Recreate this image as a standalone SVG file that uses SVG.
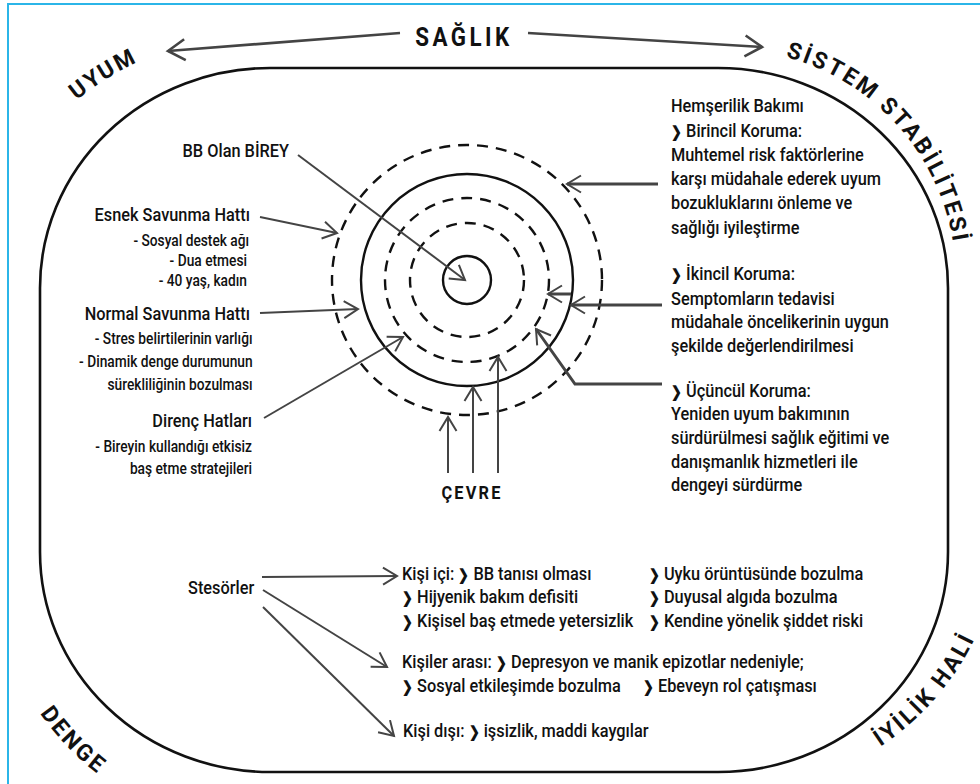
<svg xmlns="http://www.w3.org/2000/svg" width="980" height="784" viewBox="0 0 980 784">
<defs>
<style>
.t{font-family:Roboto,"Liberation Sans",sans-serif;fill:#111;font-weight:500;}
.h{font-size:19px;}
.s{font-size:16px;}
.b{font-weight:bold;}
.c{font-size:15px;font-weight:bold;}
.corner{font-family:Roboto,"Liberation Sans",sans-serif;font-weight:bold;font-size:23px;letter-spacing:2.6px;fill:#111;}
.circ{fill:none;stroke:#111;stroke-width:2.4;}
.dash{stroke-dasharray:11 8;}
.ar{fill:none;stroke:#444;stroke-width:2;marker-end:url(#ah);}
.thick{stroke-width:3;}
.big{stroke-width:2.6;marker-end:url(#ahb);}
</style>
<marker id="ah" markerUnits="userSpaceOnUse" viewBox="0 0 30 30" markerWidth="30" markerHeight="30" refX="15" refY="15" orient="auto">
<path d="M1,6.5 L15,15 L1,23.5" fill="none" stroke="#444" stroke-width="2"/>
</marker>
<marker id="ahb" markerUnits="userSpaceOnUse" viewBox="-5 -5 40 40" markerWidth="40" markerHeight="40" refX="15" refY="15" orient="auto">
<path d="M-2,4.5 L15,15 L-2,25.5" fill="none" stroke="#444" stroke-width="2.6"/>
</marker>
<path id="p-uyum" d="M-38,340 A308,308 0 0 1 270,32"/>
<path id="p-sistem" d="M726,49 A230,230 0 0 1 956,279"/>
<path id="p-denge" d="M-11,552 A281,281 0 0 0 270,833"/>
<path id="p-iyilik" d="M730,792 A272,272 0 0 0 1002,520"/>
</defs>
<rect x="0" y="0" width="980" height="784" fill="#fff"/>
<rect x="8" y="4" width="990" height="800" fill="none" stroke="#2bb5e8" stroke-width="2"/>

<g id="frame">
<rect x="40" y="68" width="908" height="704" rx="230" ry="220" fill="none" stroke="#111" stroke-width="2.6"/>
</g>

<g id="corner-labels">
<text class="corner"><textPath href="#p-uyum" startOffset="64.4%" text-anchor="middle">UYUM</textPath></text>
<text class="corner"><textPath href="#p-sistem" startOffset="53.5%" text-anchor="middle">SİSTEM STABİLİTESİ</textPath></text>
<text class="corner"><textPath href="#p-denge" startOffset="48.6%" text-anchor="middle">DENGE</textPath></text>
<text class="corner"><textPath href="#p-iyilik" startOffset="54.4%" text-anchor="middle">İYİLİK HALİ</textPath></text>
</g>

<g id="saglik" transform="translate(464,46) scale(0.86,1)">
<text class="t b" x="0" y="0" font-size="26" letter-spacing="4" text-anchor="middle">SAĞLIK</text>
</g>

<g id="circles">
<circle class="circ dash" cx="467" cy="280" r="135"/>
<circle class="circ" cx="467" cy="280" r="106"/>
<circle class="circ dash" cx="467" cy="280" r="82"/>
<circle class="circ dash" cx="467" cy="280" r="57"/>
<circle class="circ" cx="467" cy="280" r="24"/>
</g>

<g id="connectors">
<path class="ar big" d="M400,33 L168,51"/>
<path class="ar big" d="M528,33 L762,47"/>
<path class="ar" d="M298,155 L465,280"/>
<path class="ar" d="M260,217 L337,233"/>
<path class="ar" d="M260,313 L358,309"/>
<path class="ar" d="M264,418 L403,337"/>
<path class="ar" d="M448,473 L448,417"/>
<path class="ar" d="M473,473 L473,387"/>
<path class="ar" d="M498,473 L498,357"/>
<path class="ar thick" d="M658,184 L567,184"/>
<path class="ar thick" d="M662,305 L571,305"/>
<path class="ar thick" d="M571,294 L548,294"/>
<path class="ar thick" d="M662,384 L575,384 L536,329"/>
<path class="ar" d="M262,577 L397,576"/>
<path class="ar" d="M263,590 L387,667"/>
<path class="ar" d="M263,607 L394,736"/>
</g>

<g id="birey" transform="translate(289,157) scale(0.86,1)">
<text class="t h" x="0" y="0" text-anchor="end">BB Olan BİREY</text>
</g>

<g id="esnek" transform="translate(250,221) scale(0.86,1)">
<text class="t h" x="0" y="0" text-anchor="end">Esnek Savunma Hattı</text>
<text class="t s" x="-1" y="25" text-anchor="end">- Sosyal destek ağı</text>
<text class="t s" x="-3.5" y="45" text-anchor="end">- Dua etmesi</text>
<text class="t s" x="-3.5" y="65" text-anchor="end">- 40 yaş, kadın</text>
</g>

<g id="normal" transform="translate(250,320) scale(0.86,1)">
<text class="t h" x="0" y="0" text-anchor="end">Normal Savunma Hattı</text>
<text class="t s" x="3" y="24" text-anchor="end">- Stres belirtilerinin varlığı</text>
<text class="t s" x="3" y="47" text-anchor="end">- Dinamik denge durumunun</text>
<text class="t s" x="3" y="70" text-anchor="end">sürekliliğinin bozulması</text>
</g>

<g id="direnc" transform="translate(252,427) scale(0.86,1)">
<text class="t h" x="0" y="0" text-anchor="end">Direnç Hatları</text>
<text class="t s" x="0" y="25" text-anchor="end">- Bireyin kullandığı etkisiz</text>
<text class="t s" x="0" y="47" text-anchor="end">baş etme stratejileri</text>
</g>

<g id="cevre" transform="translate(472,499) scale(0.86,1)">
<text class="t b" x="0" y="0" font-size="19" letter-spacing="2.5" text-anchor="middle">ÇEVRE</text>
</g>

<g id="birincil" transform="translate(671,112) scale(0.86,1)">
<text class="t h" x="0" y="0">Hemşerilik Bakımı</text>
<text class="t h" x="0" y="25"><tspan class="c">❯</tspan> Birincil Koruma:</text>
<text class="t h" x="0" y="49">Muhtemel risk faktörlerine</text>
<text class="t h" x="0" y="73">karşı müdahale ederek uyum</text>
<text class="t h" x="0" y="97">bozukluklarını önleme ve</text>
<text class="t h" x="0" y="122">sağlığı iyileştirme</text>
</g>

<g id="ikincil" transform="translate(671,280) scale(0.86,1)">
<text class="t h" x="0" y="0"><tspan class="c">❯</tspan> İkincil Koruma:</text>
<text class="t h" x="0" y="25">Semptomların tedavisi</text>
<text class="t h" x="0" y="48">müdahale öncelikerinin uygun</text>
<text class="t h" x="0" y="72">şekilde değerlendirilmesi</text>
</g>

<g id="ucuncul" transform="translate(671,397) scale(0.86,1)">
<text class="t h" x="0" y="0"><tspan class="c">❯</tspan> Üçüncül Koruma:</text>
<text class="t h" x="0" y="23">Yeniden uyum bakımının</text>
<text class="t h" x="0" y="47">sürdürülmesi sağlık eğitimi ve</text>
<text class="t h" x="0" y="71">danışmanlık hizmetleri ile</text>
<text class="t h" x="0" y="94">dengeyi sürdürme</text>
</g>

<g id="stresorler" transform="translate(188,594) scale(0.86,1)">
<text class="t h" x="0" y="0">Stesörler</text>
</g>

<g id="kisi-ici" transform="translate(402,580) scale(0.86,1)">
<text class="t h" x="0" y="0">Kişi içi: <tspan class="c">❯</tspan> BB tanısı olması</text>
<text class="t h" x="0" y="23"><tspan class="c">❯</tspan> Hijyenik bakım defisiti</text>
<text class="t h" x="0" y="47"><tspan class="c">❯</tspan> Kişisel baş etmede yetersizlik</text>
<text class="t h" x="287" y="0"><tspan class="c">❯</tspan> Uyku örüntüsünde bozulma</text>
<text class="t h" x="287" y="23"><tspan class="c">❯</tspan> Duyusal algıda bozulma</text>
<text class="t h" x="287" y="47"><tspan class="c">❯</tspan> Kendine yönelik şiddet riski</text>
</g>

<g id="kisiler-arasi" transform="translate(402,668) scale(0.86,1)">
<text class="t h" x="0" y="0">Kişiler arası: <tspan class="c">❯</tspan> Depresyon ve manik epizotlar nedeniyle;</text>
<text class="t h" x="0" y="24"><tspan class="c">❯</tspan> Sosyal etkileşimde bozulma</text>
<text class="t h" x="280" y="24"><tspan class="c">❯</tspan> Ebeveyn rol çatışması</text>
</g>

<g id="kisi-disi" transform="translate(403,737) scale(0.86,1)">
<text class="t h" x="0" y="0">Kişi dışı: <tspan class="c">❯</tspan> işsizlik, maddi kaygılar</text>
</g>
</svg>
